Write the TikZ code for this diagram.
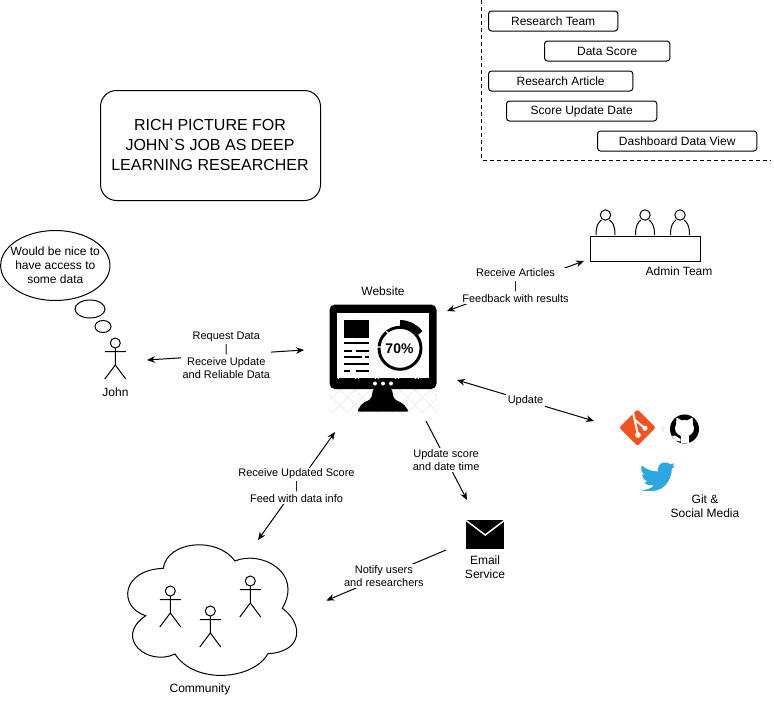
\documentclass[tikz,border=0pt]{standalone}
\usepackage{fontspec}
\setmainfont{Liberation Sans}
\newfontfamily\rawsans{Liberation Sans}
\usetikzlibrary{arrows.meta,shapes.geometric,calc}
\definecolor{gitorange}{HTML}{F4511E}
\definecolor{twblue}{HTML}{2CA7E0}
\definecolor{hatchgray}{HTML}{EDEDED}
\tikzset{
  base/.style={line width=.75pt,black},
  tblbox/.style={draw,line width=.75pt,rounded corners=2.25pt,minimum height=15pt,inner sep=0pt,anchor=north west,font=\fontsize{9}{11}\selectfont},
  lbl/.style={font=\fontsize{8.25}{9.75}\selectfont,align=center,inner sep=1pt},
  conlbl/.style={lbl,fill=white},
  txt/.style={font=\fontsize{9}{10.5}\selectfont,align=center,inner sep=0pt},
  conn/.style={line width=.75pt,black},
  tip/.tip={Stealth[length=6pt,width=5pt]},
  pics/stick/.style={code={
    \draw[base] (0,0) circle[radius=5];
    \draw[base] (0,5)--(0,22) (-10.5,8.5)--(10.5,8.5) (-10.5,36)--(0,22)--(10.5,36);
  }},
  pics/sitter/.style={code={
    \draw[base] (0,0) circle[radius=5.2];
    \draw[base] (-9.5,20) .. controls (-9.5,10) and (-7,7.5) .. (-4,5) (4,5) .. controls (7,7.5) and (9.5,10) .. (9.5,20);
  }}
}
\begin{document}
\begin{tikzpicture}[x=.75pt,y=-.75pt]
\useasboundingbox (0,0) rectangle (774,700);

% legend panel
\draw[base,dashed,dash pattern=on 3pt off 2.25pt] (481.5,0)--(481.5,160)--(771,160);
\node[tblbox,minimum width=97pt] (t1) at (488,10.5) {Research Team};
\node[tblbox,minimum width=94pt] (t2) at (544,40.5) {Data Score};
\node[tblbox,minimum width=108.25pt] (t3) at (488,70.5) {Research Article};
\node[tblbox,minimum width=112.75pt] (t4) at (506,100.5) {Score Update Date};
\node[tblbox,minimum width=119.5pt] (t5) at (597,130.5) {Dashboard Data View};

% title
\node[draw,line width=.75pt,rounded corners=12pt,minimum width=165pt,minimum height=82.5pt,inner sep=0pt] (title) at (210.5,145.5) {};
\node[inner sep=0pt,align=center,font=\fontsize{12}{15}\selectfont] (titletext) at (210,145) {RICH PICTURE FOR\\JOHN{\rawsans`}S JOB AS DEEP\\LEARNING RESEARCHER};

% thought bubble
\node[draw,ellipse,line width=.75pt,minimum width=82pt,minimum height=52.5pt,inner sep=0pt] (thought) at (55.3,265.5) {};
\node[txt,font=\fontsize{9}{10.5}\selectfont] (thoughttext) at (thought.center) {Would be nice to\\have access to\\some data};
\node[draw,ellipse,line width=.75pt,minimum width=22.5pt,minimum height=13.5pt,inner sep=0pt] (puff1) at (90,309) {};
\node[draw,ellipse,line width=.75pt,minimum width=12pt,minimum height=9pt,inner sep=0pt] (puff2) at (103,326.5) {};

% John
\pic at (115.3,343) {stick};
\node[txt] (john) at (115.5,392) {John};

% Website icon
\begin{scope}
  \clip (330,388) rectangle (437,412);
  \foreach \k in {0,15,...,150}{
    \draw[hatchgray,line width=.75pt] (300+\k,380)--(350+\k,430);
    \draw[hatchgray,line width=.75pt] (350+\k,380)--(300+\k,430);
  }
\end{scope}
\node[txt] (website) at (383,291) {Website};
\fill[black,rounded corners=4pt] (329.5,304.5) rectangle (436.5,389);
\fill[white] (337,313) rectangle (428.5,378);
\begin{scope}
  \clip (337,313) rectangle (428.5,378);
  \foreach \k in {-60,-40,...,120}{
    \draw[hatchgray!45,line width=.75pt] (337+\k,300)--(417+\k,380);
    \draw[hatchgray!45,line width=.75pt] (417+\k,300)--(337+\k,380);
  }
\end{scope}
\fill[black] (344,320) rectangle (368.5,337.5);
\draw[black,line width=1.3pt]
  (344,343.3)--(368.5,343.3)
  (344,350.7)--(352,350.7) (356,350.7)--(368.5,350.7)
  (344,357.2)--(362,357.2) (365,357.2)--(368.5,357.2)
  (344,364)--(368.5,364)
  (344,370.8)--(350,370.8) (356,370.8)--(368.5,370.8);
\fill[white] (400,348.3) circle[radius=24];
\draw[black,line width=2.2pt] (400,348.3) circle[radius=21];
\draw[white,line width=1pt] (376,347)--(382,347) (386,331)--(390,335);
\draw[black,line width=5.2pt] (400,323.5) arc[start angle=90,end angle=37,x radius=24.8,y radius=-24.8];
\node[font=\bfseries\fontsize{10.5}{12}\selectfont,inner sep=0pt] (pct) at (399.5,348.3) {70\%};
\foreach \x in {375,383,391} \fill[white] (\x,383.5) circle[radius=2];
\fill[black,rounded corners=1.5pt] (373.5,388)--(391.5,388)--(394,399)--(403,403.5)--(409,411.5)--(357,411.5)--(362,403.5)--(371,399)--cycle;

% Admin team
\pic at (605.5,215) {sitter};
\pic at (645,215) {sitter};
\pic at (680,215) {sitter};
\node[draw,line width=.75pt,minimum width=82.5pt,minimum height=18.75pt,inner sep=0pt,anchor=north west] (table) at (589.5,235.5) {};
\node[txt] (admin) at (679,271) {Admin Team};

% Git and social icons
\node[diamond,fill=gitorange,minimum width=27.5pt,minimum height=27.5pt,inner sep=0pt,rounded corners=1.5pt] (gitlogo) at (637.5,427.7) {};
\draw[white,line width=1.5pt] (633,412.5)--(638,435) (635,420)--(645,428.3);
\fill[white] (638,435) circle[radius=2.9] (645,428.3) circle[radius=2.6];
\draw[hatchgray,line width=1pt] (660,428.5)--(666,428.5) (663,425.5)--(663,431.5);
\node[circle,fill=black,minimum size=21.75pt,inner sep=0pt] (github) at (684.5,429) {};
\fill[white] (684.5,428.3) ellipse[x radius=9.5,y radius=8.3];
\fill[white] (676,424)--(676.5,417.5)--(682,420.5)--cycle (693,424)--(692.5,417.5)--(687,420.5)--cycle;
\fill[white] (680.5,434) rectangle (688.5,443);
\fill[white] (672,436)--(675,435.5)--(680.5,439)--(680.5,441.5)--(675,440.5)--cycle;
\fill[twblue,rounded corners=.6pt] (640.5,490) .. controls (648,490) and (651,488) .. (654,485.5)
  .. controls (647,485) and (645,484) .. (644.5,482) .. controls (646,482) and (647,481.5) .. (648,481.5)
  .. controls (644,480) and (642,477) .. (642,474) .. controls (643,474.5) and (644,475) .. (645,475)
  .. controls (641.5,472.5) and (640.5,469) .. (641.5,465)
  .. controls (645,469) and (652,471.5) .. (658.5,471.5)
  .. controls (657,467) and (660,462.5) .. (665,462.5)
  .. controls (667.5,462.5) and (669,463.5) .. (670,464.5)
  .. controls (671.5,464.2) and (673,463.8) .. (674.5,463)
  .. controls (674,464.5) and (673,465.5) .. (671.5,466.3)
  .. controls (673,466.2) and (674,465.7) .. (675,465.3)
  .. controls (674,466.8) and (672.8,467.8) .. (671.7,468.5)
  .. controls (672,478) and (665,491) .. (651,491)
  .. controls (647,491) and (643,490.8) .. (640.5,490) -- cycle;
\node[txt] (gitlabel) at (705,506) {Git \&\\Social Media};

% Email
\node[fill=black,minimum width=28.75pt,minimum height=21.5pt,inner sep=0pt] (mail) at (485.2,534.2) {};
\draw[white,line width=1.1pt] ($(mail.north west)+(.5,1)$) -- (485.2,535) -- ($(mail.north east)+(-.5,1)$);
\node[txt] (email) at (485,567) {Email\\Service};

% Community
\draw[base] (163.3,568.3) .. controls (167,541) and (217,536) .. (235,561)
  .. controls (260,550) and (303.7,571.7) .. (282.3,608.3)
  .. controls (303.3,623.3) and (303.7,651.7) .. (268,653.7)
  .. controls (253,680) and (195,685) .. (175,654)
  .. controls (148,667) and (113,638) .. (145.7,615.7)
  .. controls (118,607) and (121,570) .. (163.3,568.3) -- cycle;
\pic at (170.3,591) {stick};
\pic at (210.3,611) {stick};
\pic at (250.3,581) {stick};
\node[txt] (community) at (200,689.5) {Community};

% connector ends
\coordinate (johnR) at (147,360);
\coordinate (webW) at (304,350);
\coordinate (webNE) at (447,311);
\coordinate (adminSW) at (584,261);
\coordinate (webE) at (457,380);
\coordinate (gitW) at (594,421);
\coordinate (webS) at (426,421);
\coordinate (emailN) at (467,500);
\coordinate (webSW) at (335,432);
\coordinate (commNE) at (258,540);
\coordinate (emailW) at (446,550);
\coordinate (commE) at (326.5,600.5);

% connectors
\draw[conn,tip-tip] (johnR) -- node[conlbl,pos=.505] (l1) {Request Data\\|\\Receive Update\\and Reliable Data} (webW);
\draw[conn,tip-tip] (webNE) -- node[conlbl,pos=.5] (l2) {Receive Articles\\|\\Feedback with results} (adminSW);
\draw[conn,tip-tip] (webE) -- node[conlbl,pos=.5] (l3) {Update} (gitW);
\draw[conn,-tip] (webS) -- node[conlbl,pos=.49] (l4) {Update score\\and date time} (emailN);
\draw[conn,tip-tip] (webSW) -- node[conlbl,pos=.5] (l5) {Receive Updated Score\\|\\Feed with data info} (commNE);
\draw[conn,-tip] (emailW) -- node[conlbl,pos=.52] (l6) {Notify users\\and researchers} (commE);
\end{tikzpicture}
\end{document}
